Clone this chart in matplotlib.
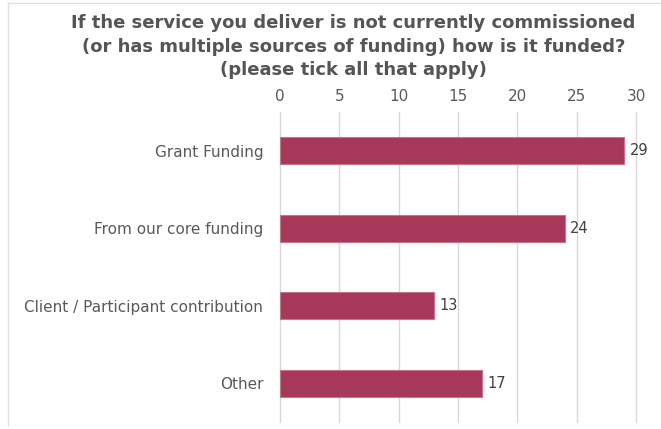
import matplotlib
matplotlib.use("Agg")
import matplotlib.pyplot as plt
from matplotlib.lines import Line2D

categories = ["Grant Funding", "From our core funding", "Client / Participant contribution", "Other"]
values = [29, 24, 13, 17]
ticks = [0, 5, 10, 15, 20, 25, 30]
title = ("If the service you deliver is not currently commissioned\n"
         "(or has multiple sources of funding) how is it funded?\n"
         "(please tick all that apply)")

plt.rcParams["font.family"] = ["DejaVu Sans"]

fig = plt.figure(figsize=(6.61, 4.29), dpi=100)
ax = fig.add_axes([280 / 661, 1 - 422 / 429, 356 / 661, 310 / 429])

ypos = list(range(len(categories)))
ax.barh(ypos, values, height=0.35, color="#a8385a", edgecolor="#c9738b", linewidth=0.8, zorder=3)
for y, v in zip(ypos, values):
    ax.text(v + 0.45, y, str(v), va="center", ha="left", fontsize=10.5, color="#404040", zorder=4)

ax.set_xlim(0, 30)
ax.set_ylim(len(categories) - 0.5, -0.5)
ax.set_yticks(ypos)
ax.set_yticklabels(categories, fontsize=11, color="#595959")
ax.set_xticks(ticks)
ax.set_xticklabels([str(t) for t in ticks], fontsize=11, color="#595959")
ax.xaxis.tick_top()
ax.tick_params(axis="both", length=0)
ax.tick_params(axis="y", pad=12)
ax.tick_params(axis="x", pad=6)
ax.grid(axis="x", color="#d9d9d9", linewidth=1, zorder=0)
for gl in ax.get_xgridlines():
    gl.set_clip_on(False)
for s in ax.spines.values():
    s.set_visible(False)

fig.text(0.535, 1 - 14 / 429, title, ha="center", va="top", fontsize=13, fontweight="bold",
         color="#555555", linespacing=1.4)

fig.add_artist(Line2D([8 / 661, 1], [1 - 3 / 429, 1 - 3 / 429], color="#e0e0e0", linewidth=1))
fig.add_artist(Line2D([8 / 661, 8 / 661], [1 - 3 / 429, 1 - 425 / 429], color="#e0e0e0", linewidth=1))

fig.savefig("out.png", dpi=100)
